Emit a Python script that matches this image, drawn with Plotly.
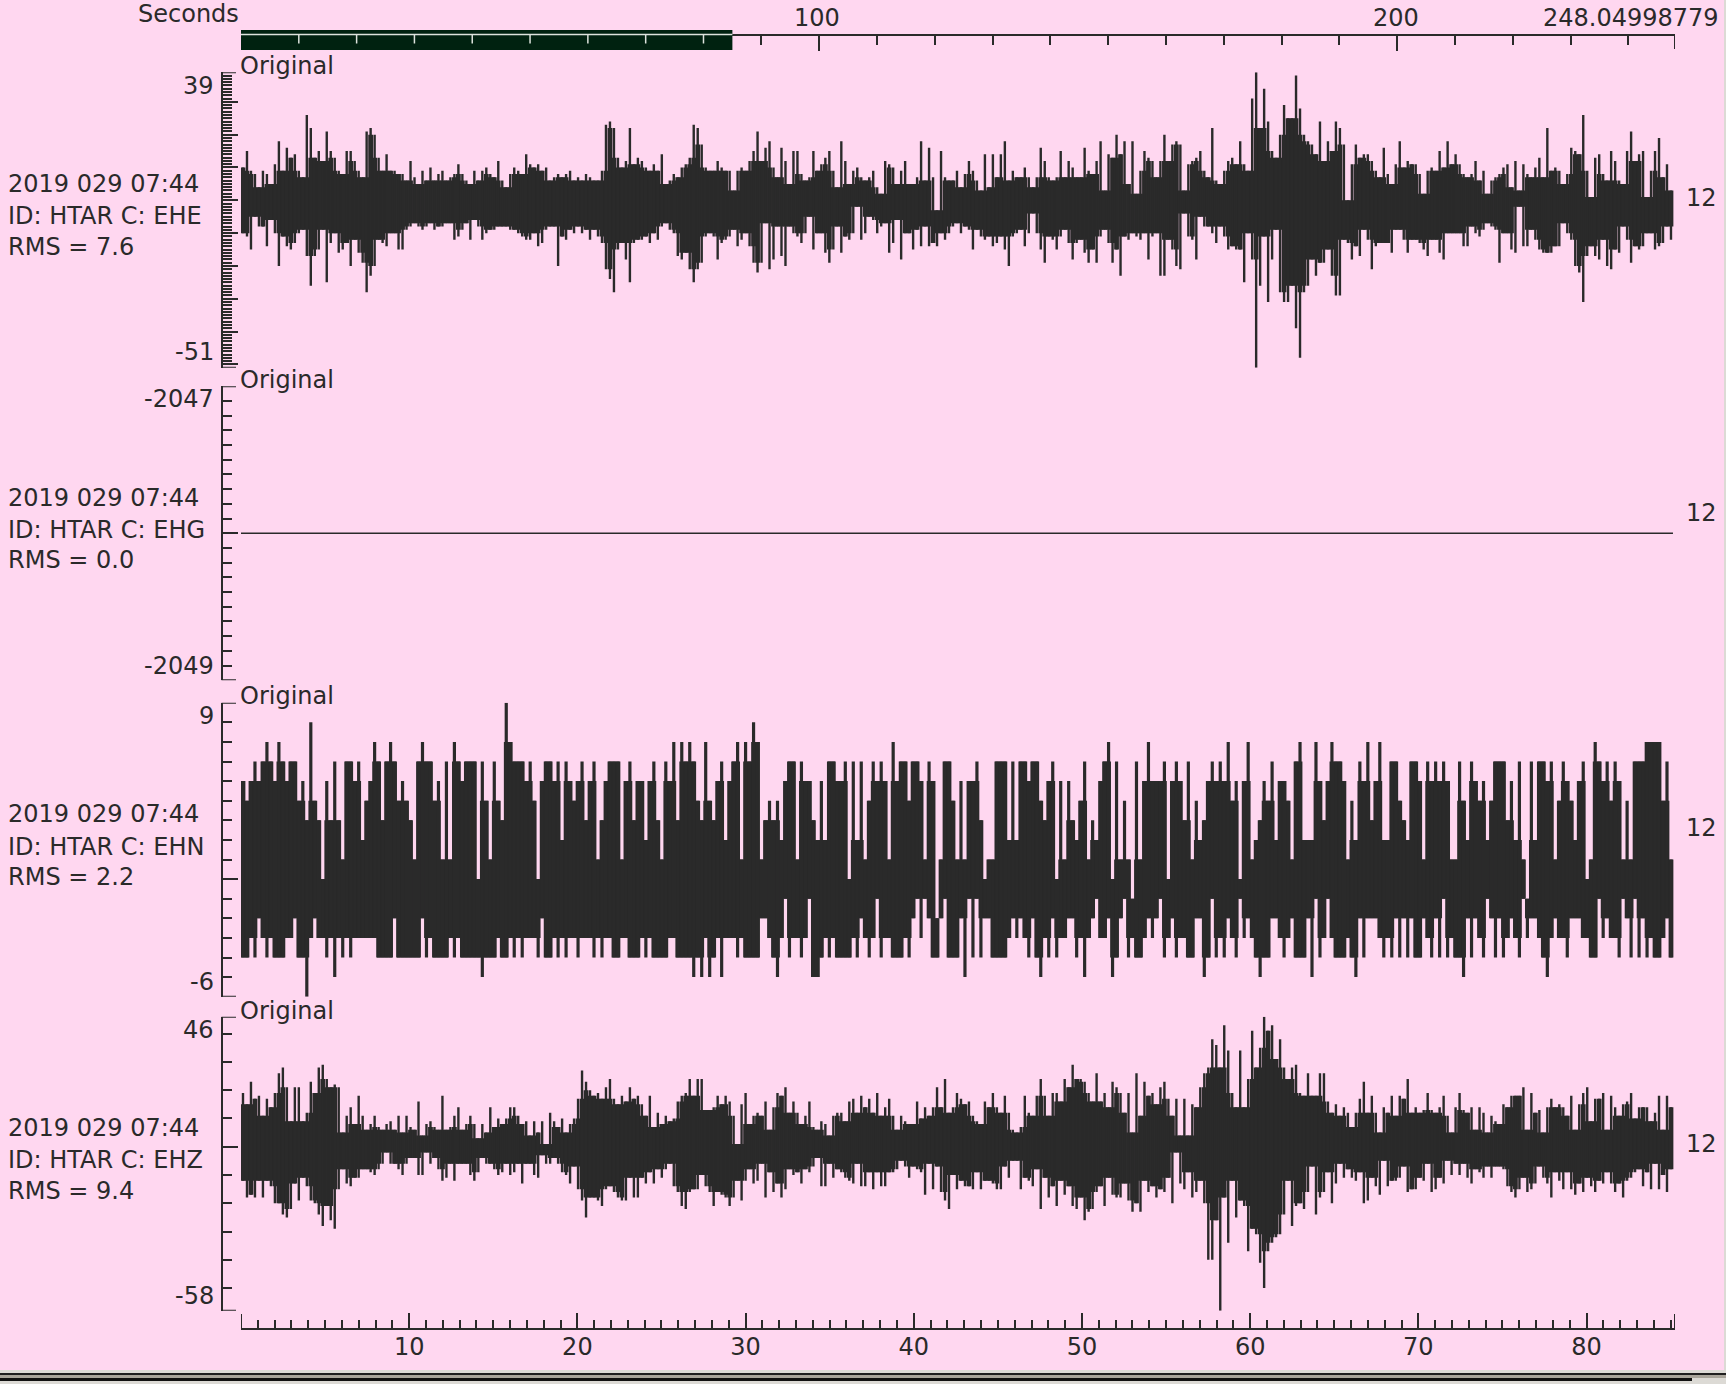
import plotly.graph_objects as go

W, H = 1726, 1384
BG = "#FFD7F0"
INK = "#2A2A2A"
FONT = "DejaVu Sans"
FS = 24

# ---- maximum / minimum counts per 0.237 s column ----
ehe_hi = [
 10,15,9,8,4,9,8,5,11,18,9,16,13,14,9,7,26,22,13,15,
 12,21,15,13,9,8,15,15,12,9,7,21,22,20,13,9,14,9,9,8,
 8,6,12,7,5,9,6,10,6,8,9,6,7,8,11,8,6,5,9,6,
 9,10,8,7,12,6,4,8,10,9,8,14,11,10,11,9,10,6,7,8,
 7,8,9,6,7,6,8,7,6,6,9,23,24,22,13,10,12,22,11,13,
 12,10,9,11,9,14,5,6,8,7,10,11,13,23,22,17,10,9,9,12,
 10,9,9,3,9,
 10,9,12,15,21,12,16,18,10,7,16,12,5,15,15,8,6,7,15,9,
 11,13,15,9,4,18,12,5,9,10,7,6,7,9,4,2,12,11,10,5,
 9,12,5,5,7,18,6,16,7,-3,15,7,6,6,9,4,8,12,9,6,
 3,14,4,14,7,14,18,6,9,7,7,10,7,4,7,16,12,7,6,7,
 15,7,12,10,7,7,16,9,8,12,18,3,14,13,20,14,18,5,18,2,
 9,15,13,12,7,12,20,12,17,18,17,3,11,12,13,15,9,7,22,6,
 5,9,12,13,11,18,11,9,31,39,22,34,24,15,13,20,29,25,25,38,
 28,20,18,17,14,24,12,18,15,24,22,17,0,11,17,13,14,14,12,9,
 7,16,8,5,11,18,10,12,11,11,8,2,9,10,9,15,10,18,11,14,
 11,8,7,8,12,6,9,2,6,7,8,10,11,4,12,3,11,8,7,10,
 13,7,22,9,10,9,5,8,16,15,14,26,9,1,13,14,8,6,15,12,
 6,5,15,21,12,14,15,1,9,15,19,7,11,3,
]
ehe_lo = [
 -10,-11,-15,-5,-8,-8,-14,-6,-10,-20,-11,-14,-15,-13,-10,-9,-17,-26,-17,-15,
 -9,-25,-13,-10,-16,-15,-13,-20,-12,-16,-19,-28,-23,-20,-12,-13,-14,-10,-10,-15,
 -15,-9,-8,-7,-8,-9,-8,-7,-9,-8,-8,-7,-7,-12,-11,-9,-7,-12,-6,-8,
 -12,-10,-9,-9,-8,-8,-8,-9,-9,-10,-11,-12,-12,-10,-14,-13,-9,-8,-8,-20,
 -11,-12,-9,-10,-8,-10,-9,-12,-9,-11,-13,-21,-24,-28,-15,-13,-18,-25,-13,-12,
 -12,-11,-13,-10,-12,-8,-7,-9,-10,-17,-18,-16,-21,-25,-21,-19,-11,-10,-11,-18,
 -13,-12,-11,-9,-14,
 -12,-10,-14,-19,-22,-19,-7,-21,-18,-8,-17,-20,-8,-10,-11,-13,-10,-5,-15,-10,
 -10,-16,-19,-15,-8,-16,-11,-12,-10,-2,-12,-10,-5,-6,-10,-8,-7,-16,-13,-6,
 -18,-10,-10,-15,-9,-14,-8,-14,-13,-14,-10,-12,-10,-8,-7,-10,-8,-9,-15,-9,
 -11,-12,-11,-14,-13,-11,-15,-20,-11,-10,-9,-14,-10,-4,-10,-15,-19,-11,-12,-15,
 -11,-9,-13,-18,-13,-12,-16,-19,-15,-19,-11,-9,-13,-19,-15,-23,-11,-12,-10,-11,
 -12,-10,-18,-11,-10,-23,-23,-12,-15,-20,-21,-4,-11,-12,-18,-5,-8,-8,-10,-13,
 -8,-11,-15,-14,-15,-15,-25,-10,-18,-51,-26,-11,-31,-18,-9,-28,-31,-31,-26,-39,
 -48,-28,-26,-18,-23,-19,-19,-15,-23,-29,-29,-12,-13,-18,-14,-17,-9,-12,-21,-14,
 -13,-13,-13,-16,-9,-9,-12,-16,-12,-12,-13,-15,-17,-12,-12,-16,-18,-10,-10,-10,
 -10,-14,-14,-8,-10,-11,-9,-7,-8,-9,-19,-10,-10,-15,-16,-2,-14,-14,-9,-12,
 -15,-16,-16,-16,-14,-14,-7,-10,-12,-20,-22,-31,-17,-14,-17,-18,-12,-20,-21,-15,
 -16,-8,-12,-19,-14,-15,-14,-10,-10,-15,-14,-13,-8,-12,
]
ehg_level = [-2048, -2048]
ehg_time = [0.0, 85.14]

ehn_hi = [
 5,4,5,6,5,6,7,6,5,7,6,5,6,6,4,5,3,8,4,3,
 0,5,3,6,3,1,6,6,5,6,2,4,5,7,6,3,6,7,6,4,
 5,4,3,1,6,7,6,6,4,5,1,6,1,7,6,5,6,6,6,0,
 6,4,1,6,4,3,9,7,6,6,6,5,6,4,0,5,6,6,5,6,
 2,6,5,4,5,6,3,5,6,1,3,5,6,6,6,1,5,6,3,5,
 5,2,5,6,3,1,6,5,7,3,7,6,7,6,4,3,7,4,3,5,
 6,2,5,6,7,1,7,6,8,7,
 1,3,4,3,4,2,5,6,6,1,6,5,5,3,2,5,2,6,6,5,
 5,6,0,6,2,6,1,4,6,5,6,5,1,7,5,6,6,4,6,6,
 5,1,6,5,-2,1,6,6,4,1,5,1,5,5,6,3,0,1,1,6,
 6,6,2,6,2,6,6,5,6,6,4,3,5,6,0,5,1,5,3,2,
 4,6,1,3,2,5,6,7,0,6,1,4,1,-1,6,1,5,7,5,5,
 5,6,0,5,6,5,3,6,1,4,2,3,5,6,5,
 6,5,7,4,5,0,5,7,1,2,3,5,4,6,2,5,5,4,1,6,
 7,2,2,2,7,5,3,5,7,6,6,5,1,4,2,6,5,7,3,5,
 7,2,2,6,6,4,3,2,6,6,5,1,6,5,6,5,6,5,1,1,
 6,4,2,6,5,4,5,2,4,6,6,6,3,5,2,6,1,-1,6,2,
 6,6,5,6,1,4,6,5,4,2,5,6,0,1,7,6,5,6,4,6,
 5,1,4,1,6,6,6,7,7,7,7,4,6,1,
]
ehn_lo = [
 -4,-4,-3,-4,-2,-3,-4,-3,-4,-4,-4,-3,-3,-2,-4,-4,-6,-3,-2,-3,
 -3,-4,-3,-5,-3,-4,-3,-4,-3,-3,-3,-3,-3,-3,-4,-4,-4,-4,-2,-4,
 -4,-4,-4,-4,-4,-2,-4,-3,-4,-4,-4,-4,-3,-4,-3,-4,-4,-4,-4,-4,
 -5,-4,-4,-4,-3,-4,-4,-3,-4,-3,-4,-3,-3,-3,-4,-2,-4,-4,-3,-4,
 -3,-4,-3,-3,-4,-3,-3,-3,-4,-3,-4,-3,-3,-4,-4,-3,-3,-4,-4,-4,
 -3,-4,-3,-4,-4,-4,-4,-3,-3,-4,-4,-4,-4,-5,-4,-5,-3,-5,-4,-3,
 -5,-3,-3,-3,-4,-3,-4,-4,-4,-4,
 -2,-2,-3,-4,-5,-3,-1,-4,-3,-3,-4,-3,-1,-5,-5,-4,-3,-4,-3,-4,
 -4,-4,-4,-3,-4,-2,-3,-4,-3,-1,-4,-3,-3,-4,-4,-4,-3,-4,-2,-1,
 -3,-1,-2,-4,-4,-2,-1,-4,-4,-4,-2,-5,-1,-4,-1,-4,-2,-2,-4,-4,
 -4,-4,-3,-2,-3,-2,-3,-4,-2,-4,-5,-3,-4,-2,-4,-3,-3,-2,-2,-4,
 -3,-5,-3,-2,-1,-3,-3,-2,-5,-4,-2,-1,-4,-3,-4,-4,-3,-2,-3,-2,
 -1,-4,-3,-2,-4,-3,-3,-4,-4,-2,-2,-5,-4,-1,-4,
 -3,-4,-2,-3,-4,-1,-3,-2,-3,-4,-5,-4,-4,-2,-2,-3,-4,-3,-2,-4,
 -4,-4,-2,-5,-1,-4,-3,-1,-3,-4,-4,-4,-3,-4,-5,-2,-4,-2,-2,-2,
 -3,-4,-3,-4,-2,-4,-2,-4,-2,-4,-4,-2,-3,-4,-2,-4,-1,-4,-3,-4,
 -4,-5,-2,-4,-2,-3,-4,-1,-2,-4,-2,-4,-3,-2,-3,-4,-1,-3,-2,-2,
 -3,-4,-5,-3,-2,-3,-3,-4,-2,-2,-2,-3,-3,-4,-4,-1,-3,-2,-3,-3,
 -4,-1,-2,-4,-1,-4,-2,-4,-3,-4,-4,-3,-2,-4,
]
ehz_hi = [
 19,15,23,17,18,11,17,14,19,26,28,21,9,21,21,9,12,23,19,28,
 29,24,21,22,21,5,11,14,8,18,11,6,8,11,7,6,8,9,6,11,
 5,11,7,6,16,4,8,9,7,6,18,6,7,11,14,6,8,11,8,3,
 8,5,14,7,10,8,10,14,14,11,8,9,4,9,5,9,1,12,9,7,
 10,5,8,10,17,27,23,20,18,19,17,21,24,17,15,18,16,21,17,18,
 15,11,18,7,12,8,11,9,10,16,18,19,24,18,24,24,13,13,14,18,
 15,18,16,11,1,15,19,8,11,12,
 11,16,6,14,19,18,21,12,16,12,8,11,16,7,6,9,8,4,11,12,
 12,9,16,17,12,18,14,17,12,19,11,14,17,11,6,11,9,8,8,16,
 10,14,11,14,21,14,24,12,14,19,17,15,16,11,9,8,16,14,19,14,
 12,18,12,6,5,7,18,12,11,18,24,18,11,19,19,16,24,21,29,24,
 24,23,19,16,26,16,19,14,23,21,19,12,19,5,26,
 11,23,18,19,15,21,23,17,11,17,4,17,4,15,14,21,26,28,38,36,
 28,43,34,19,14,34,14,24,41,28,35,46,41,43,31,38,28,24,28,29,
 19,18,26,18,18,26,26,16,12,15,11,14,12,7,12,17,23,12,18,12,
 5,14,12,18,11,18,17,24,12,14,12,13,19,13,12,14,18,11,5,14,
 19,13,12,14,6,14,12,5,11,9,8,15,14,18,18,18,21,6,19,12,
 13,5,14,17,14,15,14,11,18,6,15,19,21,9,17,17,19,6,18,14,
 11,15,16,19,10,14,14,14,9,12,18,6,18,14,
]
ehz_lo = [
 -12,-18,-17,-18,-12,-18,-12,-14,-20,-20,-24,-25,-22,-13,-19,-11,-14,-19,-20,-24,
 -28,-21,-26,-29,-15,-8,-13,-14,-11,-11,-8,-8,-9,-10,-8,-6,-2,-6,-6,-8,
 -10,-6,-4,-4,-10,-10,-2,-6,-4,-8,-12,-11,-6,-12,-6,-6,-6,-10,-12,-9,
 -4,-6,-6,-8,-10,-9,-6,-10,-9,-6,-13,-6,-6,-10,-11,-3,-6,-6,-4,-6,
 -9,-10,-13,-7,-15,-19,-25,-18,-18,-19,-21,-15,-14,-16,-18,-19,-19,-11,-18,-18,
 -11,-13,-9,-13,-8,-11,-8,-6,-14,-16,-21,-22,-16,-15,-15,-10,-14,-16,-21,-16,
 -17,-18,-21,-18,-12,-19,-12,-8,-13,-12,
 -6,-18,-9,-16,-13,-18,-15,-8,-10,-9,-13,-8,-9,-7,-4,-14,-14,-6,-11,-8,
 -9,-11,-12,-13,-6,-14,-14,-9,-15,-9,-14,-14,-9,-9,-8,-5,-7,-11,-7,-8,
 -9,-17,-6,-15,-7,-16,-19,-22,-10,-15,-12,-14,-14,-15,-9,-15,-12,-12,-13,-15,
 -15,-7,-11,-5,-5,-15,-11,-12,-14,-8,-22,-11,-18,-14,-21,-12,-17,-14,-21,-22,
 -18,-26,-23,-22,-16,-14,-21,-11,-17,-18,-18,-13,-19,-23,-20,
 -23,-12,-16,-14,-18,-15,-16,-11,-20,-2,-13,-15,-9,-18,-16,-12,-20,-40,-40,-26,
 -58,-18,-34,-12,-25,-19,-21,-37,-29,-31,-41,-50,-37,-34,-32,-31,-24,-12,-28,-21,
 -20,-22,-16,-7,-24,-18,-16,-9,-20,-13,-6,-11,-8,-11,-12,-9,-20,-19,-11,-14,
 -17,-5,-14,-12,-12,-11,-7,-16,-15,-15,-11,-12,-6,-16,-15,-11,-13,-5,-10,-6,
 -10,-6,-11,-13,-8,-9,-11,-7,-11,-7,-7,-8,-14,-16,-18,-15,-11,-16,-15,-13,
 -7,-11,-13,-18,-9,-12,-15,-9,-15,-17,-13,-16,-11,-14,-16,-12,-13,-9,-13,-16,
 -13,-18,-12,-11,-9,-8,-14,-9,-15,-6,-15,-10,-16,-8,
]

# ---- axis facts ----
channels = ["EHE", "EHG", "EHN", "EHZ"]
rms_values = ["7.6", "0.0", "2.2", "9.4"]
y_ranges = [(-51, 39), (-2049, -2047), (-6, 9), (-58, 46)]
y_top_labels = ["39", "-2047", "9", "46"]
y_bot_labels = ["-51", "-2049", "-6", "-58"]
y_major = [[39, 30, 20, 10, 0, -10, -20, -30, -40, -50, -51],
           [-2047, -2048, -2049],
           [9, 0, -6],
           [46, 0, -58]]
y_minor_step = [1, 0.1, 1, 10]
bottom_ticks = [0, 10, 20, 30, 40, 50, 60, 70, 80, 85.26]
bottom_text = ["", "10", "20", "30", "40", "50", "60", "70", "80", ""]
bottom_ends = [0, 85.26]
top_ticks = [100, 200, 248.05]
top_end = 248.05
zoom_span = [0, 85.0]
zoom_ticks = [10, 20, 30, 40, 50, 60, 70, 80]
DT = 85.14 / 359

# ---- page layout (pixels) ----
X0, X1 = 241, 1675
panel_px = [(72.3, 367.7), (386.2, 680.2), (702.7, 996.7), (1016.7, 1310.7)]
info_y = [(184, 216, 246.7), (498, 530, 560), (814, 846.7, 876.7), (1128.3, 1160, 1191)]
orig_y = [66, 380, 696, 1011]
toplab_y = [86, 399.5, 716, 1030]
botlab_y = [352, 665.5, 982, 1296]
twelve_y = [197.7, 513, 827.7, 1144]
fx = lambda p: p / W
fy = lambda p: 1 - p / H

def core(hi, lo, rank):
    """Solid middle of a trace: the level also reached by neighbouring columns."""
    ch, cl = [], []
    n = len(hi)
    for i in range(n):
        a = sorted(hi[max(0, i - 1):i + 2])
        b = sorted(lo[max(0, i - 1):i + 2], reverse=True)
        ch.append(min(hi[i], a[min(rank, len(a) - 1)]))
        cl.append(max(lo[i], b[min(rank, len(b) - 1)]))
    return ch, cl

fig = go.Figure()
series = {0: (ehe_hi, ehe_lo, 0.6, 0), 2: (ehn_hi, ehn_lo, 0.8, 1), 3: (ehz_hi, ehz_lo, 0.6, 0)}
for k, (hi, lo, frac, rank) in series.items():
    t = [(i + 0.5) * DT for i in range(len(hi))]
    yref = "y" if k == 0 else f"y{k + 1}"
    ch, cl = core(hi, lo, rank)
    fig.add_trace(go.Bar(x=t, base=cl, y=[a - b for a, b in zip(ch, cl)], width=DT * 1.2,
                         marker=dict(color=INK, line=dict(width=0)), yaxis=yref, xaxis="x",
                         showlegend=False, hoverinfo="skip"))
    fig.add_trace(go.Bar(x=t, base=lo, y=[a - b for a, b in zip(hi, lo)], width=DT * frac,
                         marker=dict(color=INK, line=dict(width=0)), yaxis=yref, xaxis="x",
                         showlegend=False, hoverinfo="skip"))
fig.add_trace(go.Scatter(x=ehg_time, y=ehg_level, mode="lines", line=dict(color=INK, width=1.6),
                         xaxis="x", yaxis="y2", showlegend=False, hoverinfo="skip"))
fig.add_trace(go.Scatter(x=[0, 248.05], y=[0, 0], mode="markers", marker=dict(opacity=0),
                         xaxis="x2", yaxis="y", showlegend=False, hoverinfo="skip"))

layout = dict(
    width=W, height=H, autosize=False, margin=dict(l=0, r=0, t=0, b=0),
    paper_bgcolor=BG, plot_bgcolor=BG, barmode="overlay", showlegend=False,
    font=dict(family=FONT, size=FS, color=INK),
    xaxis=dict(domain=[fx(X0), fx(X1)], range=[0, 85.26], anchor="free", position=fy(1328.5),
               showgrid=False, zeroline=False, showline=True, linecolor=INK, linewidth=2,
               ticks="inside", ticklen=15, tickwidth=2, tickcolor=INK, tickmode="array",
               tickvals=bottom_ticks, ticktext=bottom_text, ticklabelstandoff=-3,
               tickfont=dict(family=FONT, size=FS, color=INK),
               minor=dict(ticks="inside", ticklen=8, tickwidth=2, tickcolor=INK, dtick=1, tick0=0)),
    xaxis2=dict(domain=[fx(X0), fx(X1)], range=[0, 248.05], anchor="free", position=fy(34.5),
                side="top", overlaying="x", showgrid=False, zeroline=False, showline=True,
                linecolor=INK, linewidth=2, ticks="inside", ticklen=15, tickwidth=2, tickcolor=INK,
                tickmode="array", tickvals=top_ticks, showticklabels=False,
                minor=dict(ticks="inside", ticklen=9, tickwidth=2, tickcolor=INK, dtick=10, tick0=0)),
)
for k in range(4):
    key = "yaxis" if k == 0 else f"yaxis{k + 1}"
    top, bot = panel_px[k]
    layout[key] = dict(domain=[fy(bot), fy(top)], range=list(y_ranges[k]), anchor="free",
                       position=fx(221.5), showgrid=False, zeroline=False, showline=True,
                       linecolor=INK, linewidth=2, ticks="inside", ticklen=15, tickwidth=2,
                       tickcolor=INK, tickmode="array", tickvals=y_major[k], showticklabels=False,
                       minor=dict(ticks="inside", ticklen=9, tickwidth=2, tickcolor=INK,
                                  dtick=y_minor_step[k], tick0=0))
fig.update_layout(**layout)

def label(text, xpx, ypx, anchor="left"):
    fig.add_annotation(text=text, xref="paper", yref="paper", x=fx(xpx), y=fy(ypx),
                       xanchor=anchor, yanchor="middle", showarrow=False,
                       font=dict(family=FONT, size=FS, color=INK), borderpad=0, borderwidth=0)

for k in range(4):
    label("2019 029 07:44", 8, info_y[k][0])
    label(f"ID: HTAR C: {channels[k]}", 8, info_y[k][1])
    label(f"RMS = {rms_values[k]}", 8, info_y[k][2])
    label("Original", 240, orig_y[k])
    label(y_top_labels[k], 214, toplab_y[k], "right")
    label(y_bot_labels[k], 214, botlab_y[k], "right")
    label("12", 1686, twelve_y[k])
label("Seconds", 239, 14, "right")
label("100", 817, 18.5, "center")
label("200", 1396, 18.5, "center")
label("248.04998779", 1719, 18.5, "right")

# plotly leaves out inside ticks that fall on the very ends of an axis: put those back
tick_line = dict(color=INK, width=2)
for k in range(4):
    yname = "y" if k == 0 else f"y{k + 1}"
    for v in y_ranges[k]:
        fig.add_shape(type="line", xref="paper", yref=yname, x0=fx(221.5), x1=fx(236), y0=v, y1=v,
                      line=tick_line, layer="above")
for v in bottom_ends:
    fig.add_shape(type="line", xref="x", yref="paper", x0=v, x1=v, y0=fy(1328.5), y1=fy(1314),
                  line=tick_line, layer="above")
fig.add_shape(type="line", xref="x2", yref="paper", x0=top_end, x1=top_end, y0=fy(34.5), y1=fy(49),
              line=tick_line, layer="above")

DARK = "#002210"
fig.add_shape(type="rect", xref="x2", yref="paper", x0=zoom_span[0], x1=zoom_span[1],
              y0=fy(50), y1=fy(30), fillcolor=DARK, line=dict(width=0), layer="above")
fig.add_shape(type="line", xref="x2", yref="paper", x0=zoom_span[0], x1=zoom_span[1],
              y0=fy(34.5), y1=fy(34.5), line=dict(color="#DDE3DD", width=1.5), layer="above")
for v in zoom_ticks:
    fig.add_shape(type="line", xref="x2", yref="paper", x0=v, x1=v, y0=fy(35), y1=fy(43.5),
                  line=dict(color="#DDE3DD", width=1.5), layer="above")

# window edge at the foot and the right of the picture
edge = [(0, W, 1370, 1373, "#DCDAD5"), (0, W, 1373, 1375, "#1E1E1E"), (0, W, 1375, 1378, "#A9A59B"),
        (0, 1692, 1378, 1381, "#111111"), (1692, W, 1378, 1384, "#DCDAD5"),
        (0, 1692, 1381, 1384, "#DCDAD5"), (1724, W, 0, 1372, "#DCDAD5")]
for x0, x1, y0, y1, c in edge:
    fig.add_shape(type="rect", xref="paper", yref="paper", x0=fx(x0), x1=fx(x1), y0=fy(y1), y1=fy(y0),
                  fillcolor=c, line=dict(width=0), layer="above")

fig.write_html("out.html", config={"displayModeBar": False},
               post_script="document.body.style.margin='0';document.body.style.background='%s';" % BG)
